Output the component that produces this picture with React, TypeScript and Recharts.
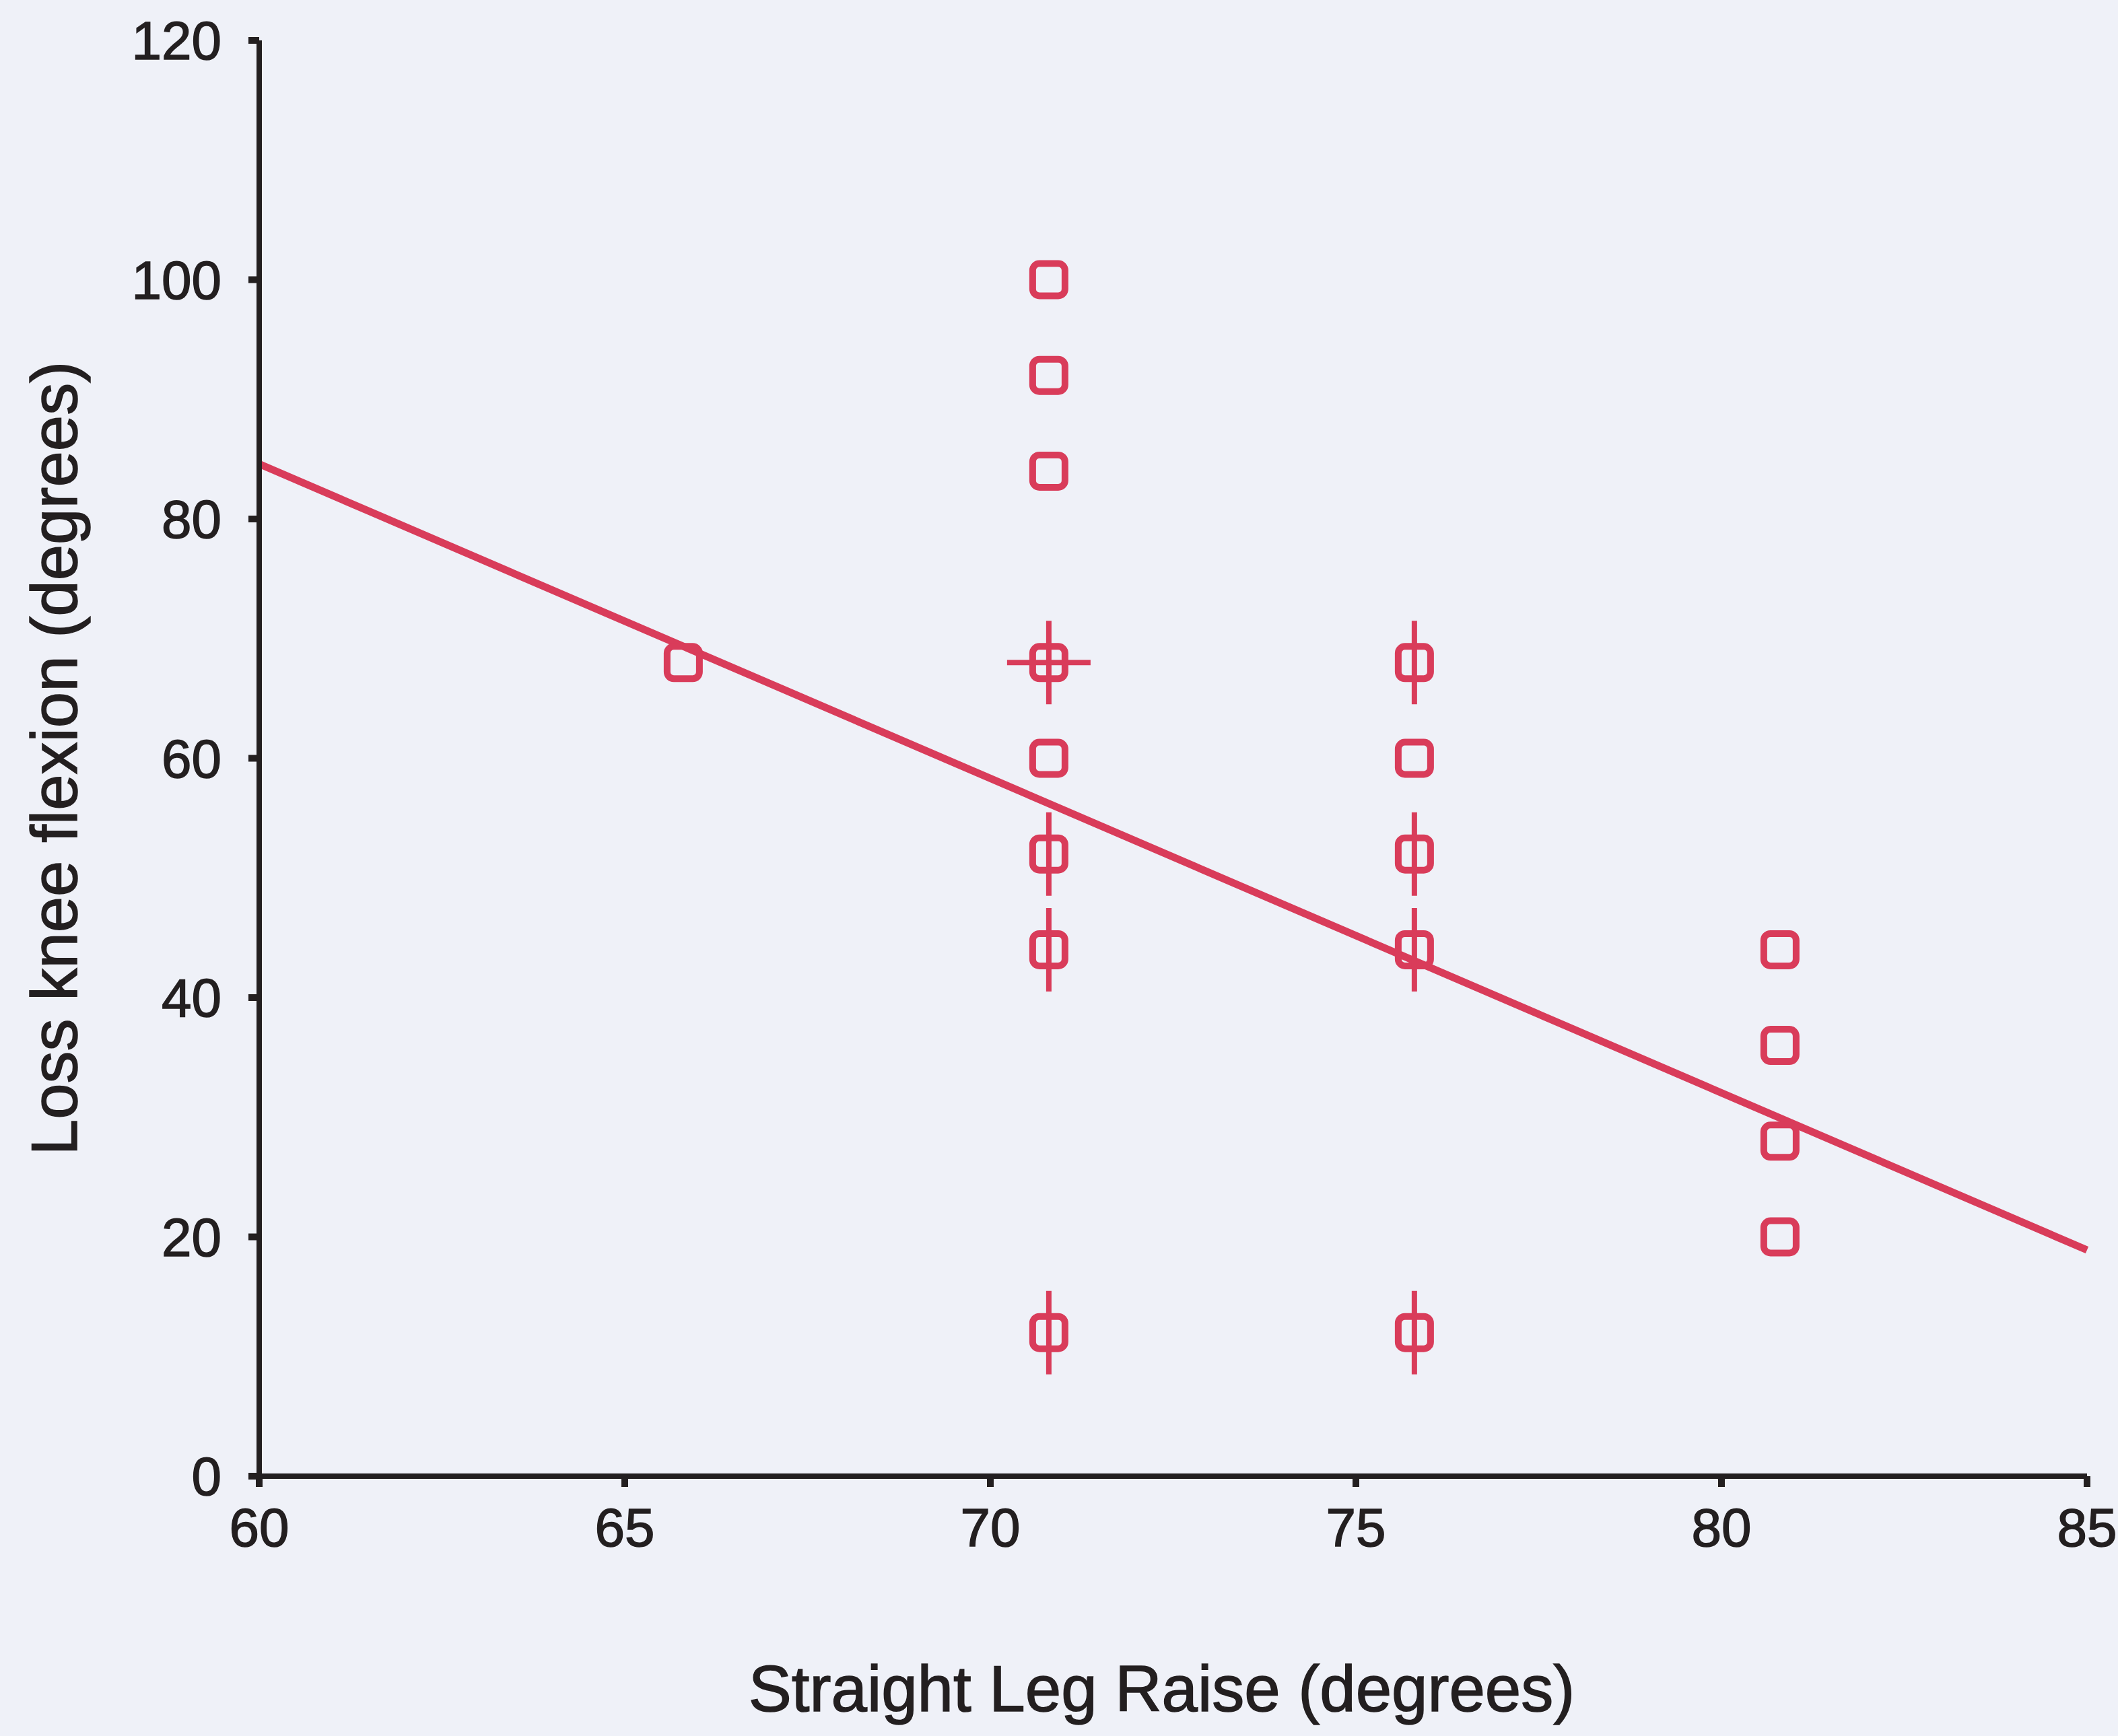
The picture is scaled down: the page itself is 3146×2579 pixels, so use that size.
import React from 'react';
import {
  ScatterChart,
  Scatter,
  XAxis,
  YAxis,
  ReferenceLine,
  Label,
} from 'recharts';

// straight leg raise (x), loss of knee flexion (y), and how many cases sit on each spot
const slrDegrees = [65.8, 70.8, 70.8, 70.8, 70.8, 70.8, 70.8, 70.8, 70.8, 75.8, 75.8, 75.8, 75.8, 75.8, 80.8, 80.8, 80.8, 80.8];
const kneeLoss = [68, 100, 92, 84, 68, 60, 52, 44, 12, 68, 60, 52, 44, 12, 44, 36, 28, 20];
const caseCounts = [1, 1, 1, 1, 4, 1, 2, 2, 2, 2, 1, 2, 2, 2, 1, 1, 1, 1];

const xTicks = [60, 65, 70, 75, 80, 85];
const yTicks = [0, 20, 40, 60, 80, 100, 120];

// fitted regression line end points
const fitX = [60, 85];
const fitY = [84.6, 18.9];

const points = slrDegrees.map((x, i) => ({ x, y: kneeLoss[i], count: caseCounts[i] }));

const RED = '#d93c5a';
const INK = '#231f20';
const FONT = '"Liberation Sans", Arial, sans-serif';

// SPSS style sunflower: square, plus a petal stroke for every extra pair of cases
const Sunflower = (props: any) => {
  const { cx, cy, payload } = props;
  if (cx == null || cy == null) return null;
  const n = payload.count;
  return (
    <g>
      <rect x={cx - 24} y={cy - 24} width={48} height={48} rx={10} fill="none" stroke={RED} strokeWidth={10} />
      {n >= 2 && <line x1={cx} y1={cy - 62} x2={cx} y2={cy + 62} stroke={RED} strokeWidth={8} />}
      {n >= 4 && <line x1={cx - 62} y1={cy} x2={cx + 62} y2={cy} stroke={RED} strokeWidth={8} />}
    </g>
  );
};

const App: React.FC = () => {
  return (
    <div
      style={{
        position: 'absolute',
        left: 0,
        top: 0,
        width: 3146,
        height: 2579,
        background: '#eff1f8',
        fontFamily: FONT,
      }}
    >
      <ScatterChart width={3146} height={2579} margin={{ top: 60, right: 46, bottom: 0, left: 0 }}>
        <XAxis
          type="number"
          dataKey="x"
          domain={[60, 85]}
          ticks={xTicks}
          height={386}
          axisLine={{ stroke: INK, strokeWidth: 8 }}
          tickLine={{ stroke: INK, strokeWidth: 10 }}
          tickSize={16}
          tickMargin={31}
          tick={{ fill: INK, fontSize: 80, fontFamily: FONT, stroke: INK, strokeWidth: 1.5 }}
        >
          <Label
            content={({ viewBox }: any) => (
              <text
                x={viewBox.x + viewBox.width / 2 - 17}
                y={viewBox.y + 349}
                textAnchor="middle"
                fill={INK}
                stroke={INK}
                strokeWidth={1.5}
                fontSize={96}
                fontFamily={FONT}
              >
                Straight Leg Raise (degrees)
              </text>
            )}
          />
        </XAxis>
        <YAxis
          type="number"
          dataKey="y"
          domain={[0, 120]}
          ticks={yTicks}
          width={385}
          axisLine={{ stroke: INK, strokeWidth: 8 }}
          tickLine={{ stroke: INK, strokeWidth: 10 }}
          tickSize={16}
          tickMargin={40}
          tick={{ fill: INK, fontSize: 80, fontFamily: FONT, stroke: INK, strokeWidth: 1.5 }}
        >
          <Label
            content={({ viewBox }: any) => {
              const cx = viewBox.x + 80;
              const cy = viewBox.y + viewBox.height / 2;
              return (
                <text
                  x={cx}
                  y={cy}
                  transform={`rotate(-90 ${cx} ${cy})`}
                  textAnchor="middle"
                  dominantBaseline="central"
                  fill={INK}
                  stroke={INK}
                  strokeWidth={1.5}
                  fontSize={96}
                  fontFamily={FONT}
                >
                  Loss knee flexion (degrees)
                </text>
              );
            }}
          />
        </YAxis>
        <ReferenceLine
          segment={[
            { x: fitX[0], y: fitY[0] },
            { x: fitX[1], y: fitY[1] },
          ]}
          stroke={RED}
          strokeWidth={11}
          ifOverflow="extendDomain"
        />
        <Scatter data={points} shape={Sunflower} isAnimationActive={false} />
      </ScatterChart>
    </div>
  );
};

export default App;
